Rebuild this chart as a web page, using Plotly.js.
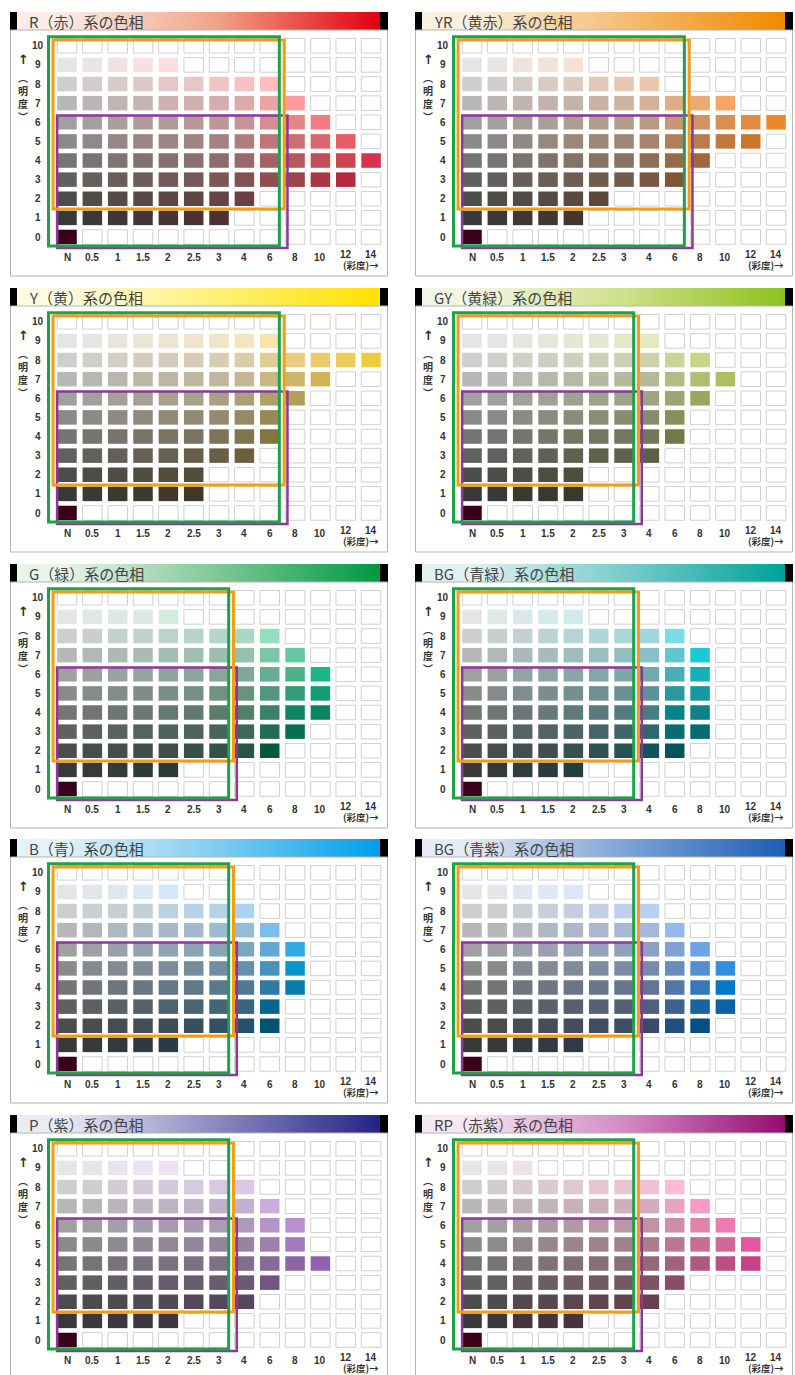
<!DOCTYPE html>
<html><head><meta charset="utf-8">
<script src="https://cdn.plot.ly/plotly-3.0.1.min.js"></script>
<style>html,body{margin:0;padding:0;background:#fff}#chart{width:795px;height:1375px}</style>
</head><body><div id="chart"></div>
<script>
// ---------- data ----------
const chromaLabels = ['N','0.5','1','1.5','2','2.5','3','4','6','8','10','12','14'];
const chromaSteps  = [0,0.5,1,1.5,2,2.5,3,4,6,8,10,12,14];
const valueLabels  = ['0','1','2','3','4','5','6','7','8','9','10'];
const panelTitles  = ['R（赤）系の色相','YR（黄赤）系の色相','Y（黄）系の色相','GY（黄緑）系の色相',
                      'G（緑）系の色相','BG（青緑）系の色相','B（青）系の色相','BG（青紫）系の色相',
                      'P（紫）系の色相','RP（赤紫）系の色相'];
// last filled chroma column (index into chromaLabels) for value rows 0..10; -1 = none
const extentR  = [0,6,7,11,12,11,10,9,8,4,-1];
const extentYR = [0,4,5,8,9,11,12,10,7,4,-1];
const extentY  = [0,5,5,7,8,8,9,10,12,8,-1];
const extentGY = [0,4,4,7,8,8,9,10,9,7,-1];
const extentG  = [0,4,8,9,10,10,10,9,8,4,-1];
const extentBG = [0,4,8,9,9,9,9,9,8,4,-1];
const extentB  = [0,4,8,8,9,9,9,8,7,4,-1];
const extentPB = [0,4,9,10,10,10,9,8,7,4,-1];
const extentP  = [0,4,7,8,10,9,9,8,7,4,-1];
const extentRP = [0,4,7,8,11,11,10,9,8,2,-1];
const extents = [extentR,extentYR,extentY,extentGY,extentG,extentBG,extentB,extentPB,extentP,extentRP];
// last chroma column covered by the three tone frames
const boxEnd = [8,8,8,6,6,6,6,6,6,6];

// ---------- style ----------
const hueAngle  = [22,62,92,115,165,205,250,272,315,350];
const barLight  = ['#fbece6','#fcf0e0','#fffbe0','#f3f6e4','#e8f4ea','#e2f2f2','#e4f2fb','#e6ebf5','#ebebf5','#f6e8f2'];
const barMid    = ['#f0a488','#f4bf78','#fff07a','#cfe08c','#7fc896','#7ccccc','#80cdf0','#7fa4d8','#8c88c0','#d48cc4'];
const barDark   = ['#e2000f','#ef8a00','#ffe100','#8dc21f','#009944','#00a29a','#00a0e9','#1d5fb4','#232585','#950d74'];
const GREEN='#1fa049', ORANGE='#f39c16', PURPLE='#8a3a96';
const W=795, H=1375, PW=378;
const colLeft=[10,415];
const PITCH_X=25.34, N_X=57, PITCH_Y=19.12, ROW0_Y=225;

function labToRgb(L,a,b){
  function conv(L,a,b){
    const fy=(L+16)/116, fx=fy+a/500, fz=fy-b/200;
    const fi=t=> t>0.206893? t*t*t : (t-16/116)/7.787;
    const X=0.95047*fi(fx), Y=fi(fy), Z=1.08883*fi(fz);
    const lin=[3.2406*X-1.5372*Y-0.4986*Z, -0.9689*X+1.8758*Y+0.0415*Z, 0.0557*X-0.2040*Y+1.0570*Z];
    return lin.map(c=> c<=0.0031308? 12.92*c : 1.055*Math.pow(Math.max(c,0),1/2.4)-0.055);
  }
  let s=1, rgb=conv(L,a,b), n=0;
  while((rgb.some(c=>c<0||c>1)) && n<60){ s*=0.97; rgb=conv(L,a*s,b*s); n++; }
  return 'rgb('+rgb.map(c=>Math.round(Math.min(1,Math.max(0,c))*255)).join(',')+')';
}
function cellColor(p,v,c){
  if(v===0) return '#3a0019';
  const L=15.5+8.4*v, C=5*c, h=hueAngle[p]*Math.PI/180;
  return labToRgb(L,C*Math.cos(h),C*Math.sin(h));
}

const px=x=>x/W, py=y=>1-y/H;
const data=[], shapes=[], A=[];
const layout={width:W,height:H,margin:{l:0,r:0,t:0,b:0},paper_bgcolor:'#fff',plot_bgcolor:'rgba(0,0,0,0)',
  showlegend:false,barmode:'overlay',shapes:shapes,annotations:A,
  font:{family:'Liberation Sans, Noto Sans CJK JP, sans-serif',color:'#333'}};
const lblFont={family:'Liberation Sans, Arial, sans-serif',size:10,color:'#333',weight:'bold'};
const jpFont ={family:'Noto Sans CJK JP, sans-serif',size:9.5,color:'#333',weight:'bold'};

for(let p=0;p<10;p++){
  const L=colLeft[p%2], T=Math.round(12+Math.floor(p/2)*275.75);
  const bottomRel=Math.min(264,H-T);
  const ax=p+1, gx=p+11;
  const xa='xaxis'+ax, ya='yaxis'+ax, xr='x'+ax, yr='y'+ax;
  layout[xa]={domain:[px(L),px(L+PW)],range:[(0-N_X)/PITCH_X,(PW-N_X)/PITCH_X],visible:false,anchor:yr,fixedrange:true};
  layout[ya]={domain:[py(T+bottomRel),py(T+18)],range:[(ROW0_Y-bottomRel)/PITCH_Y,(ROW0_Y-18)/PITCH_Y],visible:false,anchor:xr,fixedrange:true};
  // cells
  const xs=[],bs=[],cols=[],lcols=[],lw=[];
  for(let v=0;v<valueLabels.length;v++){
    for(let c=0;c<chromaLabels.length;c++){
      xs.push(c); bs.push(v-0.38);
      if(c<=extents[p][v]){ const col=cellColor(p,v,chromaSteps[c]); cols.push(col); lcols.push(col); lw.push(0); }
      else { cols.push('#ffffff'); lcols.push('#c4c4c4'); lw.push(0.8); }
    }
  }
  data.push({type:'bar',x:xs,y:xs.map(()=>0.76),base:bs,width:0.77,xaxis:xr,yaxis:yr,
    marker:{color:cols,line:{color:lcols,width:lw}},hoverinfo:'skip'});
  // title gradient bar
  const gxa='xaxis'+gx, gya='yaxis'+gx;
  const steps=[]; for(let i=0;i<100;i++) steps.push(i);
  layout[gxa]={domain:[px(L+7),px(L+PW-8)],range:[-0.5,99.5],visible:false,anchor:'y'+gx,fixedrange:true};
  layout[gya]={domain:[py(T+18),py(T)],range:[-0.5,0.5],visible:false,anchor:'x'+gx,fixedrange:true};
  data.push({type:'heatmap',z:[steps],xaxis:'x'+gx,yaxis:'y'+gx,showscale:false,hoverinfo:'skip',
    colorscale:[[0,barLight[p]],[0.12,barLight[p]],[0.55,barMid[p]],[1,barDark[p]]]});
  shapes.push({type:'rect',xref:'paper',yref:'paper',x0:px(L),x1:px(L+7),y0:py(T+18),y1:py(T),fillcolor:'#000',line:{width:0}});
  shapes.push({type:'rect',xref:'paper',yref:'paper',x0:px(L+PW-8),x1:px(L+PW),y0:py(T+18),y1:py(T),fillcolor:'#000',line:{width:0}});
  shapes.push({type:'rect',xref:'paper',yref:'paper',x0:px(L+0.5),x1:px(L+PW-0.5),y0:py(T+264),y1:py(T+18),line:{color:'#b4b4b4',width:1}});
  A.push({xref:'paper',yref:'paper',x:px(L+17),y:py(T+9.5),xanchor:'left',yanchor:'middle',showarrow:false,
    text:panelTitles[p],font:{family:'Noto Sans CJK JP, sans-serif',size:15,color:'#444'}});
  // tone frames
  const e=boxEnd[p];
  shapes.push({type:'rect',xref:xr,yref:yr,x0:-0.39,x1:e+0.7,y0:-0.58,y1:6.36,line:{color:PURPLE,width:2.5}});
  shapes.push({type:'rect',xref:xr,yref:yr,x0:-0.55,x1:e+0.57,y0:1.46,y1:10.3,line:{color:ORANGE,width:3}});
  shapes.push({type:'rect',xref:xr,yref:yr,x0:-0.73,x1:e+0.38,y0:-0.47,y1:10.47,line:{color:GREEN,width:3}});
  // labels
  valueLabels.forEach((t,v)=>A.push({xref:xr,yref:yr,x:-1.15,y:v,text:t,showarrow:false,xanchor:'center',yanchor:'middle',font:lblFont}));
  chromaLabels.forEach((t,c)=>A.push({xref:xr,yref:yr,x:c,y:(c>=11?-0.92:-1.05),text:t,showarrow:false,xanchor:'center',yanchor:'middle',font:lblFont}));
  A.push({xref:xr,yref:yr,x:11.6,y:-1.45,text:'(彩度)→',showarrow:false,xanchor:'center',yanchor:'middle',font:jpFont});
  A.push({xref:xr,yref:yr,x:-1.72,y:9.3,text:'↑',showarrow:false,xanchor:'center',yanchor:'middle',font:{family:'DejaVu Sans, sans-serif',size:13,color:'#333',weight:'bold'}});
  A.push({xref:xr,yref:yr,x:-1.72,y:7.3,text:'︵<br>明<br>度<br>︶',showarrow:false,xanchor:'center',yanchor:'middle',font:{family:'Noto Sans CJK JP, sans-serif',size:10,color:'#333',weight:'bold'}});
}
Plotly.newPlot('chart',data,layout,{staticPlot:true,displayModeBar:false});
</script></body></html>
